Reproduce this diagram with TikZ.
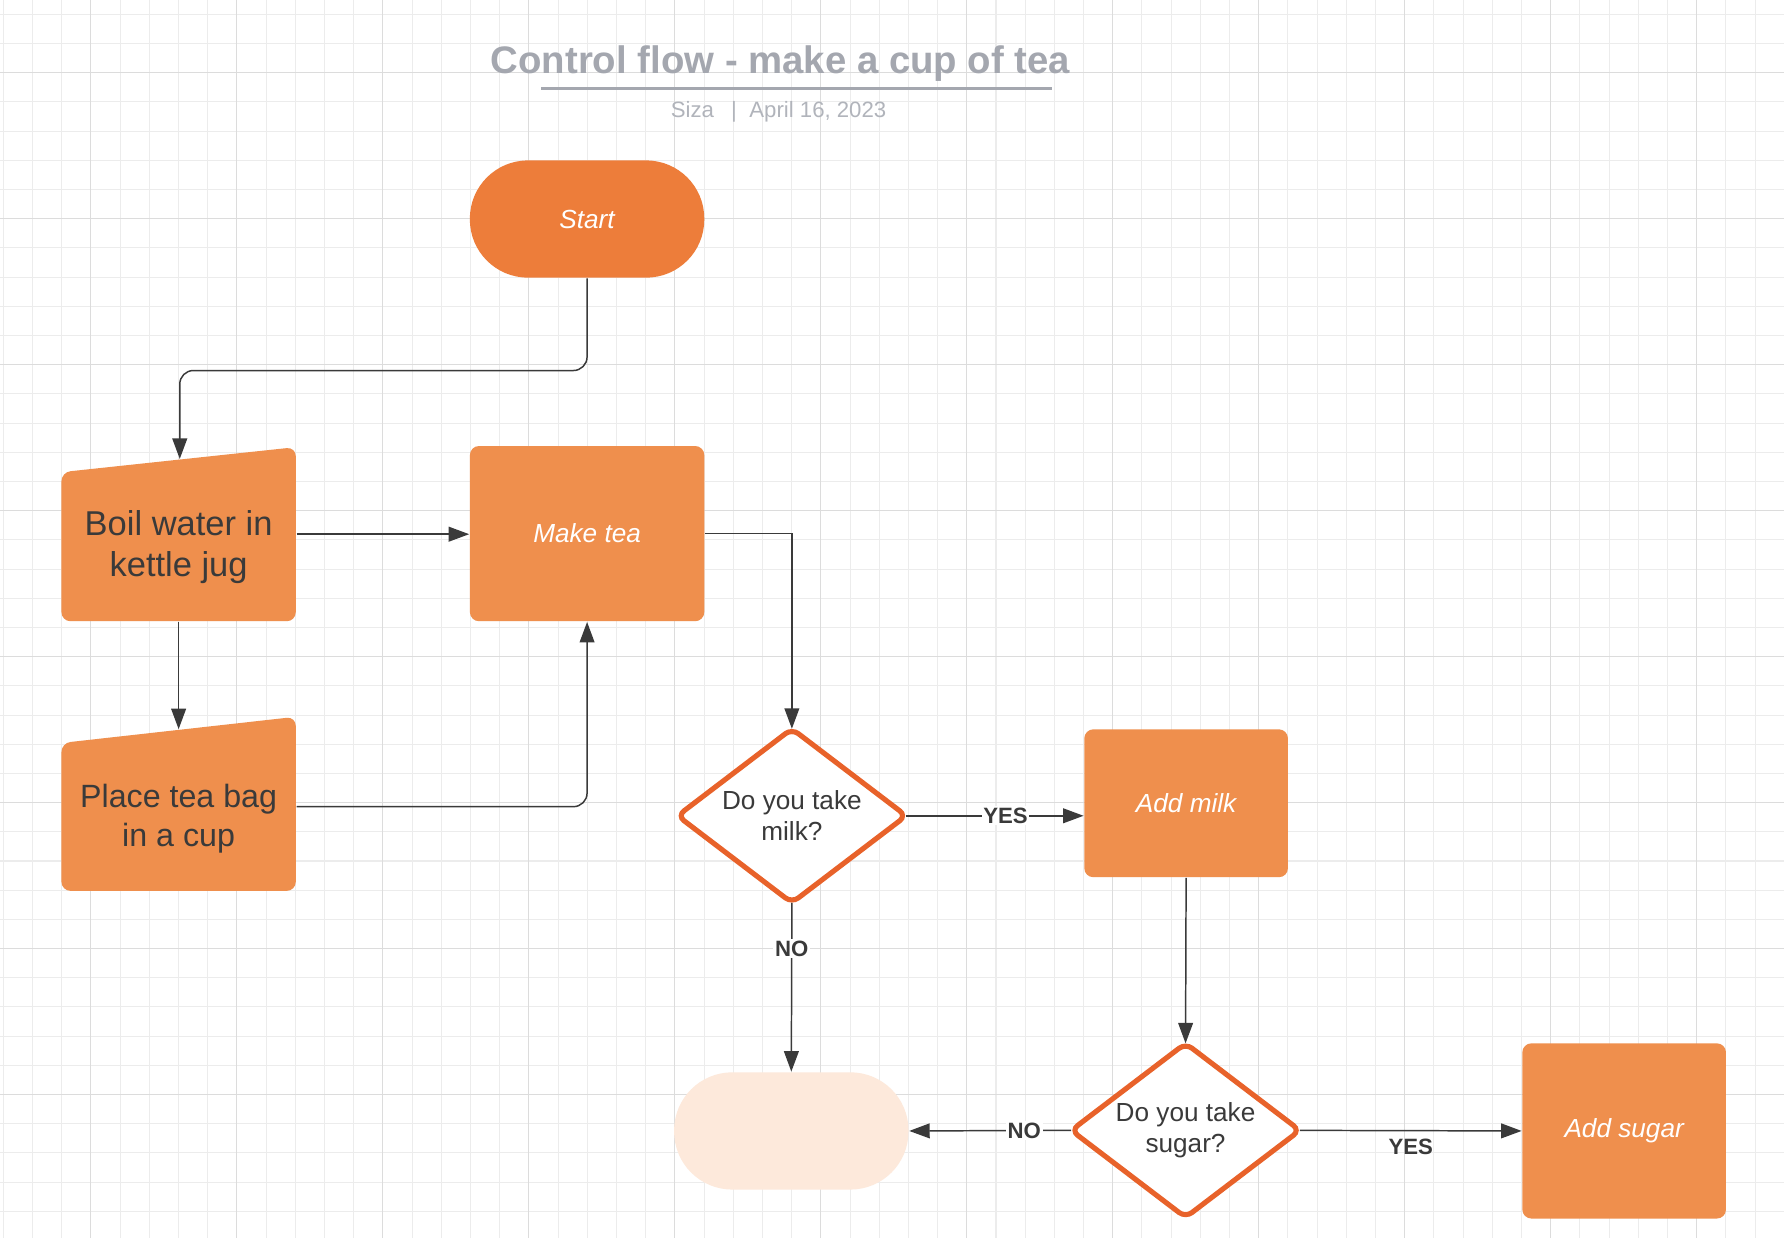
\documentclass[tikz,border=0pt]{standalone}
\usepackage{fontspec}
\setmainfont{Liberation Sans}
\usetikzlibrary{arrows.meta,shapes.geometric}
\definecolor{startorange}{HTML}{ED7D3A}
\definecolor{boxorange}{HTML}{EF8F4D}
\definecolor{endpeach}{HTML}{FDE9DB}
\definecolor{rimorange}{HTML}{E8622A}
\definecolor{inkgrey}{HTML}{3A3A3A}
\definecolor{titlegrey}{HTML}{A4A7AF}
\definecolor{subgrey}{HTML}{B1B4BB}
\definecolor{gridminor}{HTML}{ECECEC}
\definecolor{gridmajor}{HTML}{DCDCDC}

\begin{document}
\begin{tikzpicture}[x=1pt,y=-1pt,->,>={Triangle[length=18pt,width=13pt]},
  line width=1.3pt,color=inkgrey,
  term node/.style={rectangle,rounded corners=51pt,minimum width=206pt,
  minimum height=103pt,inner sep=0pt,text=white,
  font=\fontsize{23}{27.6}\selectfont\itshape},
  task node/.style={rectangle,rounded corners=8pt,fill=boxorange,inner sep=0pt,
  text=white,font=\fontsize{23}{27.6}\selectfont\itshape},
  input node/.style={rectangle,inner sep=0pt,minimum width=206pt,minimum height=153pt,
  path picture={\fill[boxorange,rounded corners=8pt]
  ([yshift=-#1]path picture bounding box.north west) -- (path picture bounding box.north east)
  -- (path picture bounding box.south east) -- (path picture bounding box.south west) -- cycle;}},
  decision node/.style={diamond,aspect=1.3,draw=rimorange,line width=4.5pt,fill=white,
  rounded corners=7pt,minimum width=201pt,minimum height=153pt,inner sep=0pt,outer sep=0pt,
  align=center,text=inkgrey,font=\fontsize{23}{27.6}\selectfont},
  answer/.style={font=\fontsize{19.5}{23}\selectfont\bfseries,fill=white,
  inner sep=1.5pt,text=inkgrey}]

\fill[white] (0,0) rectangle (1568,1088);
\useasboundingbox (0,0) rectangle (1568,1088);
% grid paper
\begin{scope}[-,line width=0.9pt]
\foreach \i in {0,...,61}
  \draw[gridminor] ({2.96+25.66*\i},0) -- ({2.96+25.66*\i},1088);
\foreach \i in {0,...,42}
  \draw[gridminor] (0,{12.6+25.66*\i}) -- (1568,{12.6+25.66*\i});
\foreach \i in {0,...,11}
  \draw[gridmajor] ({79.9+128.3*\i},0) -- ({79.9+128.3*\i},1088);
\foreach \i in {0,...,7}
  \draw[gridmajor] (0,{63.9+128.3*\i}) -- (1568,{63.9+128.3*\i});
\end{scope}

% heading
\node[anchor=base,inner sep=0pt,text=titlegrey,font=\fontsize{33.7}{40}\selectfont\bfseries]
  (title) at (686,64.5) {Control flow - make a cup of tea};
\draw[-,titlegrey,line width=2.4pt] (475.6,77.6) -- (924.6,77.6);
\node[anchor=base west,inner sep=0pt,text=subgrey,font=\fontsize{19.5}{23}\selectfont]
  (byline) at (589,103.4) {Siza\hspace{15pt}|\hspace{11pt}April 16, 2023};

% steps
\node[term node,fill=startorange] (start) at (516,192.5) {Start};
\node[input node=22pt,label={[yshift=-11.5pt,align=center,text=inkgrey,
  font=\fontsize{30.3}{36.4}\selectfont]center:Boil water in\\kettle jug}]
  (boil) at (157,469.5) {};
\node[task node,minimum width=206pt,minimum height=154pt] (maketea) at (516,469) {Make tea};
\node[input node=23pt,label={[yshift=-13pt,align=center,text=inkgrey,
  font=\fontsize{28.3}{34}\selectfont]center:Place tea bag\\in a cup}]
  (place) at (157,706.5) {};
\node[decision node] (milk) at (696,717) {Do you take\\milk?};
\node[task node,minimum width=179pt,minimum height=130pt] (addmilk) at (1042.5,706) {Add milk};
\node[term node,fill=endpeach] (blank) at (695.5,994) {};
\node[decision node] (sugar) at (1042,993.5) {Do you take\\sugar?};
\node[task node,minimum width=179pt,minimum height=154pt] (addsugar) at (1427.5,994) {Add sugar};

% flow
\draw[rounded corners=12pt] (start.south) -- ++(0,81) -| ([xshift=1pt,yshift=-11pt]boil.north);
\path (boil.east) edge (boil.east -| maketea.west);
\path (boil.south) edge ([yshift=-11.5pt]place.north);
\draw[rounded corners=12pt] ([yshift=-2.5pt]place.east) -| (maketea.south);
\draw (maketea.east) -| (milk.north);
\path (milk.east) edge node[answer,pos=0.56] {YES} (milk.east -| addmilk.west);
\path (milk.south) edge node[answer,pos=0.27] {NO} (blank.north);
\path (addmilk.south) edge (sugar.north);
\path (sugar.west) edge node[answer,pos=0.29] {NO} (blank.east);
\path (sugar.east) edge node[answer,fill=none,below=5pt,pos=0.5] {YES} (addsugar.west);

\end{tikzpicture}
\end{document}
